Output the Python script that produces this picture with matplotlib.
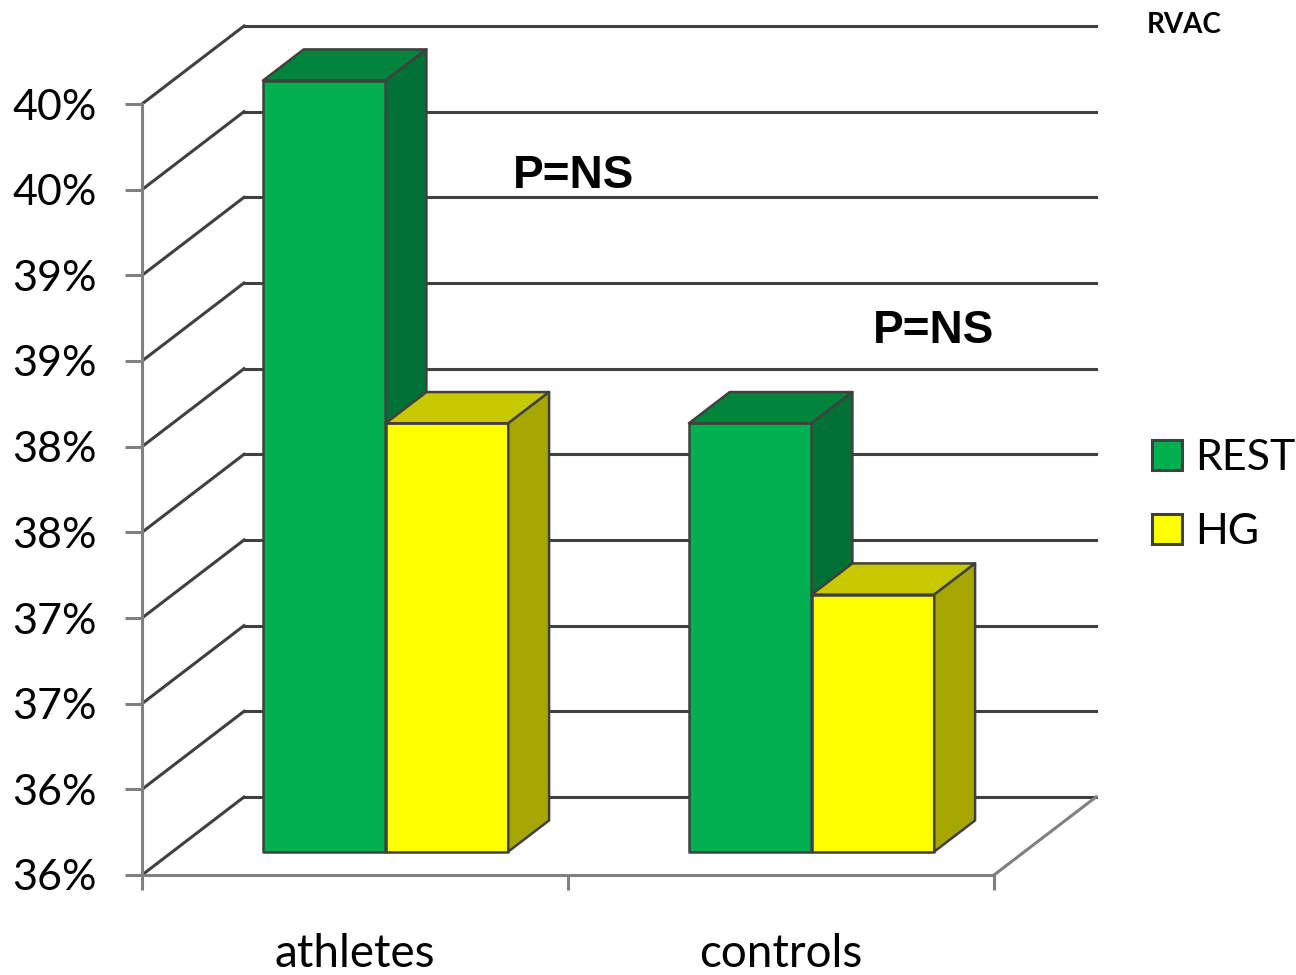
import matplotlib.pyplot as plt
from matplotlib.patches import Polygon, Patch

plt.rcParams['font.family'] = ['Lato', 'DejaVu Sans']

# data
groups = ['athletes', 'controls']
series = ['REST', 'HG']
rest = [40.0, 38.0]
hg = [38.0, 37.0]
y_ticks = [35.5, 36.0, 36.5, 37.0, 37.5, 38.0, 38.5, 39.0, 39.5, 40.0]
y_labels = ['36%', '36%', '37%', '37%', '38%', '38%', '39%', '39%', '40%', '40%']

front_col = ['#00B050', '#FFFF00']
top_col = ['#00843C', '#C8C800']
side_col = ['#007034', '#A6A600']
edge = '#404040'
grey = '#808080'

fig = plt.figure(figsize=(12.96, 9.75), dpi=100)
ax = fig.add_axes([142 / 1296, 100 / 975, 852 / 1296, 771 / 975])
ax.set_xlim(0, 2)
ax.set_ylim(35.5, 40.0)
ax.patch.set_visible(False)

# depth of the pseudo 3d box, in data units
ddx = 2 * 102 / 852
ddy = 4.5 * 78 / 771
y0 = y_ticks[0]

# walls
for v in y_ticks:
    ax.plot([0, ddx], [v, v + ddy], color=edge, lw=2.2, clip_on=False, zorder=1)
    ax.plot([ddx, 2 + ddx], [v + ddy, v + ddy], color=edge, lw=2.2, clip_on=False, zorder=1)
ax.plot([2, 2 + ddx], [y0, y0 + ddy], color=grey, lw=2.2, clip_on=False, zorder=1)


def box(x0, w, v, k, z):
    a0, a1 = 0.30, 0.70
    front = [(x0 + a0 * ddx, y0 + a0 * ddy), (x0 + w + a0 * ddx, y0 + a0 * ddy),
             (x0 + w + a0 * ddx, v + a0 * ddy), (x0 + a0 * ddx, v + a0 * ddy)]
    top = [(x0 + a0 * ddx, v + a0 * ddy), (x0 + w + a0 * ddx, v + a0 * ddy),
           (x0 + w + a1 * ddx, v + a1 * ddy), (x0 + a1 * ddx, v + a1 * ddy)]
    side = [(x0 + w + a0 * ddx, y0 + a0 * ddy), (x0 + w + a1 * ddx, y0 + a1 * ddy),
            (x0 + w + a1 * ddx, v + a1 * ddy), (x0 + w + a0 * ddx, v + a0 * ddy)]
    for pts, c in [(front, front_col[k]), (top, top_col[k]), (side, side_col[k])]:
        ax.add_patch(Polygon(pts, closed=True, facecolor=c, edgecolor=edge,
                             lw=1.8, joinstyle='round', clip_on=False, zorder=z))


w = 0.288
z = 3
for i in range(len(groups)):
    for k, vals in enumerate([rest, hg]):
        box(i + 0.5 - w + k * w, w, vals[i], k, z)
        z += 1

# axes
ax.set_yticks(y_ticks, y_labels)
ax.tick_params(axis='y', length=12.5, width=2.2, color=grey, pad=20, labelsize=31)
ax.set_xticks([0, 1, 2], ['', '', ''])
ax.tick_params(axis='x', which='major', length=11, width=2.2, color=grey)
ax.set_xticks([0.5, 1.5], groups, minor=True)
ax.tick_params(axis='x', which='minor', length=0, pad=42, labelsize=33)
for s in ['top', 'right']:
    ax.spines[s].set_visible(False)
for s in ['left', 'bottom']:
    ax.spines[s].set_color(grey)
    ax.spines[s].set_linewidth(2.2)

# legend
handles = [Patch(facecolor=front_col[k], edgecolor=edge, lw=2.2) for k in range(2)]
fig.legend(handles, series, loc='center left', bbox_to_anchor=(1152 / 1296, 1 - 495 / 975),
           frameon=False, fontsize=31, handlelength=0.7, handleheight=0.7,
           handletextpad=0.3, labelspacing=0.82, borderpad=0, borderaxespad=0)

# notes
fig.text(573 / 1296, 1 - 188 / 975, 'P=NS', ha='center', va='baseline', fontsize=33,
         fontweight='bold', family='Liberation Sans')
fig.text(933 / 1296, 1 - 343 / 975, 'P=NS', ha='center', va='baseline', fontsize=33,
         fontweight='bold', family='Liberation Sans')
fig.text(1147 / 1296, 1 - 33 / 975, 'RVAC', ha='left', va='baseline', fontsize=20,
         fontweight='bold')

plt.savefig('out.png', dpi=100)
